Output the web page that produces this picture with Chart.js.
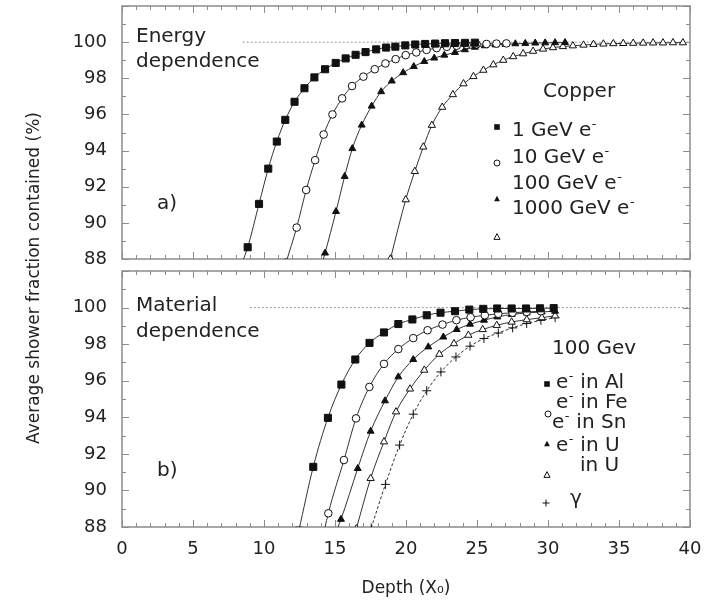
<!DOCTYPE html>
<html>
<head>
<meta charset="utf-8">
<script src="https://cdn.jsdelivr.net/npm/chart.js@4.4.1/dist/chart.umd.min.js"></script>
<style>
  body { margin: 0; background: #fff; }
  #wrap { position: relative; width: 711px; height: 600px; }
  #topChart { position: absolute; left: 0; top: 0; }
  #botChart { position: absolute; left: 0; top: 265px; }
</style>
</head>
<body>
<div id="wrap">
  <canvas id="topChart" width="711" height="600"></canvas>
  <canvas id="botChart" width="711" height="335"></canvas>
</div>
<script>
// ---- data ----

// a) copper, energy dependence (depth in X0, contained fraction in %)
const cu1X    = [8.15, 8.85, 9.65, 10.3, 10.9, 11.5, 12.15, 12.85, 13.55, 14.3, 15.05, 15.75, 16.45, 17.15, 17.9, 18.6, 19.25, 19.95, 20.65, 21.35, 22.05, 22.75, 23.45, 24.15, 24.85];
const cu1Y    = [87.2, 88.65, 91.05, 93.0, 94.5, 95.7, 96.7, 97.45, 98.05, 98.5, 98.85, 99.1, 99.3, 99.45, 99.6, 99.7, 99.75, 99.82, 99.87, 99.9, 99.92, 99.94, 99.95, 99.96, 99.97];
const cu10X   = [11.55, 12.3, 12.97, 13.6, 14.2, 14.82, 15.5, 16.2, 17.0, 17.8, 18.55, 19.27, 19.98, 20.72, 21.45, 22.16, 22.87, 23.57, 24.27, 24.97, 25.67, 26.37, 27.07];
const cu10Y   = [87.8, 89.74, 91.82, 93.47, 94.89, 96.0, 96.89, 97.57, 98.09, 98.5, 98.82, 99.06, 99.28, 99.43, 99.57, 99.67, 99.74, 99.8, 99.85, 99.88, 99.9, 99.92, 99.93];
const cu100X  = [13.6, 14.3, 15.07, 15.68, 16.22, 16.88, 17.58, 18.25, 19.0, 19.8, 20.55, 21.29, 21.99, 22.7, 23.45, 24.15, 24.85, 25.55, 26.3, 27.0, 27.7, 28.4, 29.1, 29.8, 30.5, 31.2];
const cu100Y  = [86.4, 88.33, 90.63, 92.57, 94.11, 95.41, 96.46, 97.26, 97.85, 98.31, 98.65, 98.93, 99.12, 99.28, 99.43, 99.58, 99.72, 99.8, 99.85, 99.88, 99.91, 99.93, 99.95, 99.96, 99.97, 99.98];
const cu1000X = [18.9, 19.98, 20.62, 21.22, 21.82, 22.55, 23.3, 24.05, 24.75, 25.45, 26.15, 26.85, 27.55, 28.25, 28.95, 29.65, 30.35, 31.05, 31.75, 32.5, 33.2, 33.9, 34.6, 35.3, 36.0, 36.7, 37.4, 38.1, 38.8, 39.5];
const cu1000Y = [88.0, 91.28, 92.85, 94.2, 95.4, 96.4, 97.1, 97.7, 98.1, 98.45, 98.75, 99.0, 99.2, 99.36, 99.5, 99.62, 99.7, 99.76, 99.8, 99.84, 99.88, 99.9, 99.92, 99.93, 99.94, 99.95, 99.96, 99.96, 99.97, 99.97];

// b) 100 GeV, material dependence
const alX = [12.45, 13.47, 14.5, 15.45, 16.43, 17.43, 18.45, 19.46, 20.45, 21.46, 22.43, 23.45, 24.46, 25.44, 26.42, 27.44, 28.45, 29.44, 30.4];
const alY = [87.8, 91.29, 93.97, 95.79, 97.16, 98.07, 98.64, 99.1, 99.35, 99.58, 99.72, 99.8, 99.89, 99.93, 99.95, 99.95, 99.95, 99.96, 99.97];
const feX = [13.55, 14.53, 15.63, 16.48, 17.42, 18.45, 19.46, 20.51, 21.52, 22.57, 23.55, 24.55, 25.55, 26.5, 27.5, 28.5, 29.5];
const feY = [85.3, 88.75, 91.66, 93.94, 95.66, 96.92, 97.73, 98.33, 98.76, 99.07, 99.31, 99.47, 99.58, 99.66, 99.72, 99.76, 99.8];
const snX = [14.4, 15.42, 16.6, 17.51, 18.52, 19.46, 20.51, 21.57, 22.63, 23.57, 24.51, 25.49, 26.43, 27.44, 28.5, 29.56, 30.5];
const snY = [86.5, 88.42, 91.2, 93.24, 94.9, 96.21, 97.16, 97.85, 98.39, 98.8, 99.09, 99.31, 99.49, 99.62, 99.71, 99.76, 99.8];
const uX  = [16.5, 17.51, 18.45, 19.3, 20.28, 21.29, 22.35, 23.38, 24.39, 25.4, 26.39, 27.44, 28.5, 29.56, 30.5];
const uY  = [87.9, 90.66, 92.66, 94.3, 95.55, 96.58, 97.45, 98.03, 98.49, 98.8, 99.03, 99.21, 99.34, 99.45, 99.55];
const gX  = [17.55, 18.55, 19.55, 20.51, 21.46, 22.46, 23.52, 24.51, 25.49, 26.5, 27.51, 28.5, 29.5, 30.5];
const gY  = [87.95, 90.33, 92.48, 94.17, 95.45, 96.48, 97.3, 97.89, 98.31, 98.61, 98.89, 99.13, 99.3, 99.45];

// reference line at 100 %
const refTopX = [8.5, 40];
const refBotX = [9, 40];
const refY    = [100, 100];

const xTicks = [0, 5, 10, 15, 20, 25, 30, 35, 40];
const yTicks = [88, 90, 92, 94, 96, 98, 100];

const FONT = '"DejaVu Sans", "Liberation Sans", sans-serif';
const INK  = '#222';

function pts(xs, ys) {
    return xs.map((x, i) => ({ x: x, y: ys[i] }));
}

function series(xs, ys, style, filled, radius, dash) {
    return {
        data: pts(xs, ys),
        borderColor: '#333',
        borderWidth: 1,
        borderDash: dash || [],
        cubicInterpolationMode: 'monotone',
        pointStyle: style,
        pointRadius: radius,
        pointBorderWidth: 1,
        pointBorderColor: '#111',
        pointBackgroundColor: filled ? '#111' : '#fff'
    };
}

function refLine(xs) {
    return {
        data: pts(xs, refY),
        borderColor: '#999',
        borderWidth: 1,
        borderDash: [2, 2],
        pointRadius: 0
    };
}

/* -------- plugins -------- */

// box with inward ticks on all four sides
const framePlugin = {
    id: 'frame',
    beforeDatasetsDraw(chart) {
        const { ctx, chartArea: a, scales } = chart;
        const x = scales.x, y = scales.y;
        ctx.save();
        ctx.strokeStyle = '#8c8c8c';
        ctx.lineWidth = 1;
        ctx.beginPath();
        for (let v = 0; v <= 40; v++) {
            const px = Math.round(x.getPixelForValue(v)) + 0.5;
            const len = v % 5 === 0 ? 7 : 4;
            ctx.moveTo(px, a.bottom); ctx.lineTo(px, a.bottom - len);
            ctx.moveTo(px, a.top);    ctx.lineTo(px, a.top + len);
        }
        for (let v = 88; v <= 102; v++) {
            const py = Math.round(y.getPixelForValue(v)) + 0.5;
            const len = v % 2 === 0 ? 7 : 4;
            ctx.moveTo(a.left, py);  ctx.lineTo(a.left + len, py);
            ctx.moveTo(a.right, py); ctx.lineTo(a.right - len, py);
        }
        ctx.stroke();
        ctx.lineWidth = 1.5;
        ctx.strokeRect(a.left, a.top, a.width, a.height);
        ctx.restore();
    }
};

function drawMark(ctx, style, filled, x, y, r) {
    ctx.beginPath();
    if (style === 'rect') {
        ctx.rect(x - r, y - r, 2 * r, 2 * r);
    } else if (style === 'circle') {
        ctx.arc(x, y, r, 0, Math.PI * 2);
    } else if (style === 'triangle') {
        ctx.moveTo(x, y - r);
        ctx.lineTo(x + r * 0.9, y + r * 0.7);
        ctx.lineTo(x - r * 0.9, y + r * 0.7);
        ctx.closePath();
    } else if (style === 'cross') {
        ctx.moveTo(x - r, y); ctx.lineTo(x + r, y);
        ctx.moveTo(x, y - r); ctx.lineTo(x, y + r);
        ctx.stroke();
        return;
    }
    if (filled) { ctx.fillStyle = '#111'; ctx.fill(); }
    else { ctx.fillStyle = '#fff'; ctx.fill(); ctx.stroke(); }
}

// text where "^-" is drawn as a small raised minus (e^- -> electron)
function drawRich(ctx, str, x, y) {
    const parts = str.split('^-');
    parts.forEach((p, i) => {
        ctx.font = '20px ' + FONT;
        ctx.fillText(p, x, y);
        x += ctx.measureText(p).width;
        if (i < parts.length - 1) {
            ctx.font = '13px ' + FONT;
            ctx.fillText('-', x + 0.5, y - 8);
            x += ctx.measureText('-').width + 1;
        }
    });
}

// free text + hand-placed legend (positions relative to the plot box)
function notesPlugin(texts, marks) {
    return {
        id: 'notes',
        afterDraw(chart) {
            const { ctx, chartArea: a } = chart;
            ctx.save();
            ctx.fillStyle = INK;
            ctx.textBaseline = 'alphabetic';
            texts.forEach(t => drawRich(ctx, t[0], a.left + t[1], a.top + t[2]));
            ctx.strokeStyle = '#111';
            ctx.lineWidth = 1;
            marks.forEach(m => drawMark(ctx, m[0], m[1], a.left + m[2], a.top + m[3], m[4]));
            ctx.restore();
        }
    };
}

// shared y title spanning both panels
const yTitlePlugin = {
    id: 'ytitle',
    afterDraw(chart) {
        const ctx = chart.ctx;
        ctx.save();
        ctx.translate(35, 278);
        ctx.rotate(-Math.PI / 2);
        ctx.fillStyle = INK;
        ctx.font = '17px ' + FONT;
        ctx.textAlign = 'center';
        ctx.textBaseline = 'middle';
        ctx.fillText('Average shower fraction contained (%)', 0, 0);
        ctx.restore();
    }
};

/* -------- scales -------- */

function yScale() {
    return {
        type: 'linear',
        min: 88,
        max: 102,
        afterBuildTicks: s => { s.ticks = yTicks.map(v => ({ value: v })); },
        ticks: { color: INK, font: { family: FONT, size: 18 }, padding: 15 },
        grid: { display: false, drawTicks: false },
        border: { display: false },
        afterFit: s => { s.width = 122; s.paddingTop = 0; s.paddingBottom = 0; }
    };
}

function xScale(show) {
    return {
        type: 'linear',
        min: 0,
        max: 40,
        display: show,
        afterBuildTicks: s => { s.ticks = xTicks.map(v => ({ value: v })); },
        ticks: { color: INK, font: { family: FONT, size: 18 }, padding: 12, maxRotation: 0 },
        grid: { display: false, drawTicks: false },
        border: { display: false },
        title: {
            display: show,
            text: 'Depth (X\u2080)',
            color: INK,
            font: { family: FONT, size: 17 },
            padding: { top: 0, bottom: 1 }
        },
        afterFit: s => { if (show) s.height = 73; s.paddingLeft = 0; s.paddingRight = 0; }
    };
}

const baseOpts = (show, pad) => ({
    responsive: false,
    animation: false,
    layout: { padding: pad },
    plugins: { legend: { display: false }, tooltip: { enabled: false } },
    scales: { x: xScale(show), y: yScale() }
});

/* -------- a) energy dependence -------- */

new Chart(document.getElementById('topChart'), {
    type: 'line',
    data: {
        datasets: [
            series(cu1X, cu1Y, 'rect', true, 5),
            series(cu10X, cu10Y, 'circle', false, 3.8),
            series(cu100X, cu100Y, 'triangle', true, 4),
            series(cu1000X, cu1000Y, 'triangle', false, 4.2),
            refLine(refTopX)
        ]
    },
    options: baseOpts(false, { left: 0, top: 6, right: 21, bottom: 341 }),
    plugins: [
        framePlugin,
        yTitlePlugin,
        notesPlugin(
            [['Energy', 14, 36], ['dependence', 14, 61], ['a)', 35, 203], ['Copper', 421, 91],
             ['1 GeV e^-', 390, 130], ['10 GeV e^-', 390, 157],
             ['100 GeV e^-', 390, 183], ['1000 GeV e^-', 390, 208]],
            [['rect', true, 375, 121, 2.8], ['circle', false, 375, 157, 3],
             ['triangle', true, 375, 193, 3.2], ['triangle', false, 375, 231, 3.4]]
        )
    ]
});

/* -------- b) material dependence -------- */

new Chart(document.getElementById('botChart'), {
    type: 'line',
    data: {
        datasets: [
            series(alX, alY, 'rect', true, 5),
            series(feX, feY, 'circle', false, 3.8),
            series(snX, snY, 'triangle', true, 4),
            series(uX, uY, 'triangle', false, 4.2),
            series(gX, gY, 'cross', false, 4.5, [3, 2]),
            refLine(refBotX)
        ]
    },
    options: baseOpts(true, { left: 0, top: 5, right: 21, bottom: 0 }),
    plugins: [
        framePlugin,
        notesPlugin(
            [['Material', 14, 40], ['dependence', 14, 66], ['b)', 35, 205], ['100 Gev', 430, 83],
             ['e^- in Al', 434, 117], ['e^- in Fe', 434, 137], ['e^- in Sn', 430, 157],
             ['e^- in U', 434, 180], ['in U', 458, 200], ['\u03B3', 448, 233]],
            [['rect', true, 425, 113, 2.8], ['circle', false, 426, 143, 3],
             ['triangle', true, 425, 173, 3.2], ['triangle', false, 425, 204, 3.4],
             ['cross', false, 424, 232, 3.5]]
        )
    ]
});
</script>
</body>
</html>
